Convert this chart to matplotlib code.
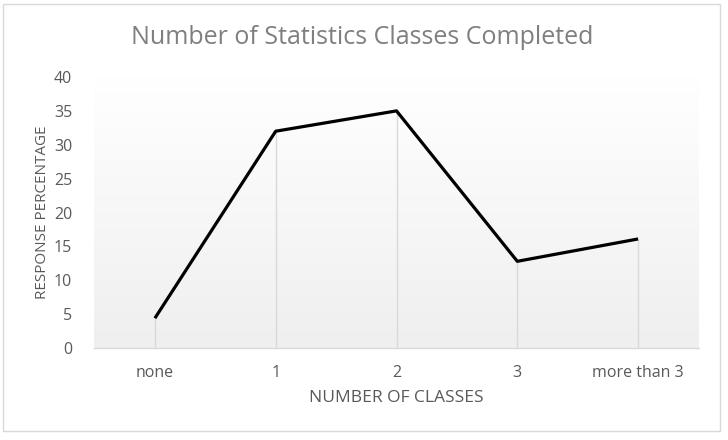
import numpy as np
import matplotlib.pyplot as plt
from matplotlib.patches import Rectangle
from matplotlib.colors import LinearSegmentedColormap

plt.rcParams['font.family'] = ['Open Sans', 'DejaVu Sans']

categories = ['none', '1', '2', '3', 'more than 3']
responses = [4.4, 32.0, 35.0, 12.8, 16.1]
y_ticks = [0, 5, 10, 15, 20, 25, 30, 35, 40]

text_grey = '#595959'
line_grey = '#d9d9d9'

fig = plt.figure(figsize=(7.28, 4.40), dpi=100)
fig.patches.append(Rectangle((0.004, 0.02), 0.985, 0.97, transform=fig.transFigure,
                             fill=False, edgecolor='#d9d9d9', linewidth=1))

ax = fig.add_axes([0.1298, 0.209, 0.8297, 0.616])
x = np.arange(len(categories))

# vertical gradient background (grey at the bottom, white at the top)
grad = np.linspace(0, 1, 256).reshape(-1, 1)
ax.imshow(grad, extent=[0, 1, 0, 1], transform=ax.transAxes, aspect='auto',
          cmap=LinearSegmentedColormap.from_list('g', ['#efefef', '#ffffff']),
          origin='lower', zorder=0)

# drop lines
ax.vlines(x, 0, responses, colors=line_grey, linewidth=1, zorder=1)
ax.plot(x, responses, color='black', linewidth=2.3, zorder=3, solid_capstyle='butt')

ax.set_xlim(-0.5, len(categories) - 0.5)
ax.set_ylim(0, 40)
ax.set_xticks(x)
ax.set_xticklabels(categories)
ax.set_yticks(y_ticks)

for s in ['top', 'right', 'left']:
    ax.spines[s].set_visible(False)
ax.spines['bottom'].set_color(line_grey)
ax.spines['bottom'].set_linewidth(1)
ax.tick_params(axis='both', length=0, colors=text_grey, labelsize=11.5)
ax.tick_params(axis='x', pad=12)
ax.tick_params(axis='y', pad=16)

ax.set_xlabel('NUMBER OF CLASSES', color=text_grey, fontsize=12.5, labelpad=7)
ax.set_ylabel('RESPONSE PERCENTAGE', color=text_grey, fontsize=11, labelpad=3)
fig.text(0.497, 0.914, 'Number of Statistics Classes Completed', ha='center', va='center',
         color='#7f7f7f', fontsize=18)

plt.savefig('out.png', dpi=100)
